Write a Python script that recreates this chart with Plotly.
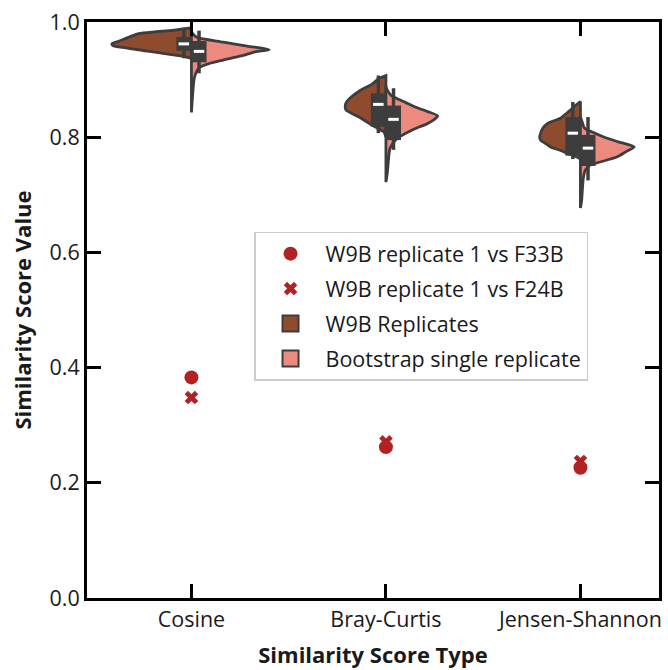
import plotly.graph_objects as go

categories = ["Cosine", "Bray-Curtis", "Jensen-Shannon"]

# ---- violin half outlines (score value, half-width in px) ----
w9b_values = [
    [0.937, 0.941, 0.945, 0.950, 0.955, 0.959, 0.962, 0.966, 0.970, 0.975, 0.980, 0.983, 0.985, 0.987, 0.990],
    [0.800, 0.809, 0.812, 0.821, 0.835, 0.847, 0.853, 0.860, 0.871, 0.882, 0.892, 0.902, 0.907],
    [0.762, 0.766, 0.772, 0.777, 0.783, 0.789, 0.795, 0.800, 0.807, 0.815, 0.824, 0.833, 0.840, 0.847, 0.855, 0.862],
]
w9b_halfwidth = [
    [0, 11, 27, 46, 66, 79, 80, 74, 68, 61, 53, 37, 22, 12, 0],
    [0, 2, 5, 14, 27, 40, 41, 40, 34, 25, 14, 7, 0],
    [0, 4, 13, 20, 30, 35, 40, 41, 40, 38, 33, 20, 15, 10, 5, 0],
]
boot_values = [
    [0.843, 0.880, 0.904, 0.921, 0.928, 0.934, 0.941, 0.948, 0.952, 0.958, 0.965, 0.972, 0.975, 0.983],
    [0.722, 0.740, 0.760, 0.780, 0.792, 0.800, 0.806, 0.812, 0.818, 0.824, 0.830, 0.837, 0.845, 0.852,
     0.860, 0.868, 0.873, 0.880, 0.887],
    [0.677, 0.690, 0.710, 0.730, 0.743, 0.752, 0.757, 0.766, 0.775, 0.783, 0.792, 0.800, 0.808, 0.816,
     0.825, 0.835],
]
boot_halfwidth = [
    [0, 1.5, 3, 8, 18, 32, 50, 64, 78, 56, 32, 8, 4, 0],
    [0, 1.5, 2.5, 4, 8, 13, 19, 26, 34, 42, 48, 52, 41, 30, 20, 10, 5, 2, 0],
    [0, 1.2, 2, 3, 5, 10, 20, 37, 46, 54, 38, 24, 13, 4, 2, 0],
]

# ---- inner box statistics ----
w9b_lo = [0.937, 0.807, 0.762]
w9b_q1 = [0.950, 0.818, 0.768]
w9b_med = [0.962, 0.857, 0.807]
w9b_q3 = [0.974, 0.876, 0.835]
w9b_hi = [0.990, 0.907, 0.861]

boot_lo = [0.911, 0.778, 0.725]
boot_q1 = [0.930, 0.795, 0.750]
boot_med = [0.949, 0.831, 0.781]
boot_q3 = [0.967, 0.855, 0.804]
boot_hi = [0.985, 0.885, 0.835]

# ---- single comparisons ----
f33b_scores = [0.383, 0.262, 0.226]
f24b_scores = [0.348, 0.271, 0.237]

# ---- styles ----
BROWN = "#8f4b2e"
PINK = "#ec8a80"
EDGE = "#3d3d3d"
RED = "#b22222"
PX = 1 / 195.5          # category units per pixel
BOX_OFF = 0.039
FONT = "Open Sans"

fig = go.Figure()


def add_half(i, vals, widths, side, color):
    xs = [i + side * w * PX for w in widths] + [i] * len(vals)
    ys = list(vals) + list(reversed(vals))
    xs.append(xs[0])
    ys.append(ys[0])
    fig.add_trace(go.Scatter(
        x=xs, y=ys, mode="lines", fill="toself", fillcolor=color,
        line=dict(color=EDGE, width=2.8, shape="spline", smoothing=0.7),
        showlegend=False, hoverinfo="skip"))


for i in range(len(categories)):
    add_half(i, w9b_values[i], w9b_halfwidth[i], -1, BROWN)
    add_half(i, boot_values[i], boot_halfwidth[i], +1, PINK)


def add_boxes(lo, q1, med, q3, hi, off):
    wx, wy, bx, by, mx, my = [], [], [], [], [], []
    for i in range(len(categories)):
        c = i + off
        wx += [c, c, None]
        wy += [lo[i], hi[i], None]
        bx += [c, c, None]
        by += [q1[i], q3[i], None]
        mx += [c - 0.027, c + 0.027, None]
        my += [med[i], med[i], None]
    fig.add_trace(go.Scatter(x=wx, y=wy, mode="lines", line=dict(color=EDGE, width=3.5),
                             showlegend=False, hoverinfo="skip"))
    fig.add_trace(go.Scatter(x=bx, y=by, mode="lines", line=dict(color=EDGE, width=15),
                             showlegend=False, hoverinfo="skip"))
    fig.add_trace(go.Scatter(x=mx, y=my, mode="lines", line=dict(color="white", width=3),
                             showlegend=False, hoverinfo="skip"))


add_boxes(w9b_lo, w9b_q1, w9b_med, w9b_q3, w9b_hi, -BOX_OFF)
add_boxes(boot_lo, boot_q1, boot_med, boot_q3, boot_hi, +BOX_OFF)

xs_cat = list(range(len(categories)))
fig.add_trace(go.Scatter(
    x=xs_cat, y=f33b_scores, mode="markers", name="W9B replicate 1 vs F33B",
    marker=dict(symbol="circle", size=14, color=RED), legendrank=1, legendgroup="a"))
fig.add_trace(go.Scatter(
    x=xs_cat, y=f24b_scores, mode="markers", name="W9B replicate 1 vs F24B",
    marker=dict(symbol="x", size=12, color=RED), legendrank=2, legendgroup="b"))
# legend entries for the violin halves
fig.add_trace(go.Scatter(
    x=[None], y=[None], mode="markers", name="W9B Replicates",
    marker=dict(symbol="square", size=16, color=BROWN, line=dict(color=EDGE, width=2)),
    legendrank=3, legendgroup="c"))
fig.add_trace(go.Scatter(
    x=[None], y=[None], mode="markers", name="Bootstrap single replicate",
    marker=dict(symbol="square", size=16, color=PINK, line=dict(color=EDGE, width=2)),
    legendrank=4, legendgroup="d"))

fig.update_layout(
    width=668, height=670,
    margin=dict(l=87, r=6, t=22, b=70),
    paper_bgcolor="white", plot_bgcolor="white",
    font=dict(family=FONT, size=21.5, color="#1a1a1a"),
    showlegend=True,
    legend=dict(
        x=0.292, y=0.636, xanchor="left", yanchor="top",
        bgcolor="white", bordercolor="#cccccc", borderwidth=1.5,
        font=dict(family=FONT, size=21.5, color="#1a1a1a"),
        itemwidth=60, traceorder="grouped", tracegroupgap=4,
    ),
    xaxis=dict(
        range=[-0.537, 2.404], tickmode="array", tickvals=xs_cat, ticktext=categories,
        showline=True, linecolor="black", linewidth=3, mirror="ticks",
        ticks="inside", ticklen=14, tickwidth=3, tickcolor="black",
        showgrid=False, zeroline=False,
        title=dict(text="<b>Similarity Score Type</b>", font=dict(size=22), standoff=16),
    ),
    yaxis=dict(
        range=[0, 1], tickmode="array", tickvals=[0, 0.2, 0.4, 0.6, 0.8, 1.0],
        ticktext=["0.0", "0.2", "0.4", "0.6", "0.8", "1.0"],
        showline=True, linecolor="black", linewidth=3, mirror="ticks",
        ticks="inside", ticklen=14, tickwidth=3, tickcolor="black",
        showgrid=False, zeroline=False,
        title=dict(text="<b>Similarity Score Value</b>", font=dict(size=22), standoff=12),
    ),
)

fig.write_html("out.html")
